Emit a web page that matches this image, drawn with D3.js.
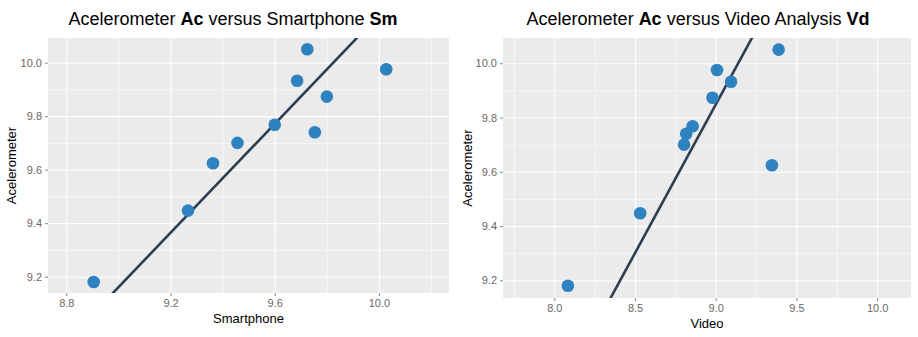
<!DOCTYPE html>
<html>
<head>
<meta charset="utf-8">
<style>
  body { margin: 0; background: #fff; }
  svg { font-family: "Liberation Sans", Arial, Helvetica, sans-serif; }
  .panel { fill: #ebebeb; }
  .grid-major line { stroke: #fff; stroke-width: 1.1; }
  .grid-minor line { stroke: #fff; stroke-width: 0.55; }
  .axis path { display: none; }
  .axis line { stroke: #333; stroke-opacity: 0.6; }
  .axis text { fill: #4d4d4d; font-size: 11px; opacity: 0.85; }
  .axis-title { font-size: 13px; fill: #000; }
  .title { font-size: 18px; fill: #000; }
</style>
</head>
<body>
<script src="https://cdn.jsdelivr.net/npm/d3@7"></script>
<script>
// values (same trials in both panels)
var accel = [10.05, 9.975, 9.932, 9.873, 9.768, 9.74, 9.70, 9.624, 9.447, 9.18];
var smart = [9.725, 10.028, 9.686, 9.80, 9.60, 9.754, 9.457, 9.363, 9.267, 8.905];
var video = [9.39, 9.008, 9.095, 8.98, 8.857, 8.817, 8.804, 9.348, 8.532, 8.084];

var smartTicks = [8.8, 9.2, 9.6, 10.0];
var smartMinor = [9.0, 9.4, 9.8, 10.2];
var videoTicks = [8.0, 8.5, 9.0, 9.5, 10.0];
var videoMinor = [7.75, 8.25, 8.75, 9.25, 9.75];
var accelTicks = [9.2, 9.4, 9.6, 9.8, 10.0];
var accelMinor = [9.3, 9.5, 9.7, 9.9];

var svg = d3.select("body").append("svg")
  .attr("width", 918)
  .attr("height", 337);

function drawPanel(opts) {
  var xs = opts.xs;
  var x = d3.scaleLinear().domain(opts.xDomain).range([opts.left, opts.right]);
  var y = d3.scaleLinear().domain(opts.yDomain).range([opts.bottom, opts.top]);
  var w = opts.right - opts.left, h = opts.bottom - opts.top;

  var g = svg.append("g");

  g.append("rect")
    .attr("class", "panel")
    .attr("x", opts.left).attr("y", opts.top)
    .attr("width", w).attr("height", h);

  // minor grid
  g.append("g").attr("class", "grid-minor")
    .attr("transform", "translate(0," + opts.bottom + ")")
    .call(d3.axisBottom(x).tickValues(opts.xMinor).tickSize(-h).tickFormat(""))
    .select(".domain").remove();
  g.append("g").attr("class", "grid-minor")
    .attr("transform", "translate(" + opts.left + ",0)")
    .call(d3.axisLeft(y).tickValues(accelMinor).tickSize(-w).tickFormat(""))
    .select(".domain").remove();

  // major grid
  g.append("g").attr("class", "grid-major")
    .attr("transform", "translate(0," + opts.bottom + ")")
    .call(d3.axisBottom(x).tickValues(opts.xTicks).tickSize(-h).tickFormat(""))
    .select(".domain").remove();
  g.append("g").attr("class", "grid-major")
    .attr("transform", "translate(" + opts.left + ",0)")
    .call(d3.axisLeft(y).tickValues(accelTicks).tickSize(-w).tickFormat(""))
    .select(".domain").remove();

  // axes
  g.append("g").attr("class", "axis")
    .attr("transform", "translate(0," + opts.bottom + ")")
    .call(d3.axisBottom(x).tickValues(opts.xTicks).tickSize(3).tickPadding(3)
      .tickFormat(d3.format(".1f")));
  g.append("g").attr("class", "axis")
    .attr("transform", "translate(" + opts.left + ",0)")
    .call(d3.axisLeft(y).tickValues(accelTicks).tickSize(3).tickPadding(3)
      .tickFormat(d3.format(".1f")));

  // clip for the line
  var clipId = "clip" + opts.left;
  g.append("clipPath").attr("id", clipId)
    .append("rect")
    .attr("x", opts.left).attr("y", opts.top)
    .attr("width", w).attr("height", h);

  // proportional line: Ac = (mean Ac / mean X) * X
  var k = d3.mean(accel) / d3.mean(xs);
  var line = d3.line()
    .x(function(d) { return x(d); })
    .y(function(d) { return y(k * d); });
  g.append("path")
    .datum(opts.xDomain)
    .attr("clip-path", "url(#" + clipId + ")")
    .attr("fill", "none")
    .attr("stroke", "#2c3e50")
    .attr("stroke-width", 2.6)
    .attr("d", line);

  // points
  g.append("g").selectAll("circle")
    .data(xs)
    .join("circle")
    .attr("cx", function(d) { return x(d); })
    .attr("cy", function(d, i) { return y(accel[i]); })
    .attr("r", 6.3)
    .attr("fill", "#2e82bf");

  // axis titles
  g.append("text").attr("class", "axis-title")
    .attr("x", (opts.left + opts.right) / 2)
    .attr("y", opts.bottom + 30)
    .attr("text-anchor", "middle")
    .text(opts.xLabel);
  g.append("text").attr("class", "axis-title")
    .attr("transform", "translate(" + opts.yLabelX + "," + ((opts.top + opts.bottom) / 2) + ") rotate(-90)")
    .attr("text-anchor", "middle")
    .text("Acelerometer");

  // title
  var t = g.append("text").attr("class", "title")
    .attr("x", opts.titleX).attr("y", 25)
    .attr("text-anchor", "middle");
  t.append("tspan").text("Acelerometer ");
  t.append("tspan").attr("font-weight", "bold").text("Ac");
  t.append("tspan").text(" versus " + opts.titleName + " ");
  t.append("tspan").attr("font-weight", "bold").text(opts.titleBold);
}

drawPanel({
  xs: smart,
  xDomain: [8.7296, 10.269],
  yDomain: [9.139, 10.092],
  xTicks: smartTicks,
  xMinor: smartMinor,
  left: 48, right: 449, top: 38, bottom: 293,
  xLabel: "Smartphone",
  yLabelX: 16,
  titleX: 233,
  titleName: "Smartphone",
  titleBold: "Sm"
});

drawPanel({
  xs: video,
  xDomain: [7.682, 10.21],
  yDomain: [9.135, 10.093],
  xTicks: videoTicks,
  xMinor: videoMinor,
  left: 503, right: 911, top: 38, bottom: 298,
  xLabel: "Video",
  yLabelX: 472,
  titleX: 698,
  titleName: "Video Analysis",
  titleBold: "Vd"
});
</script>
</body>
</html>
